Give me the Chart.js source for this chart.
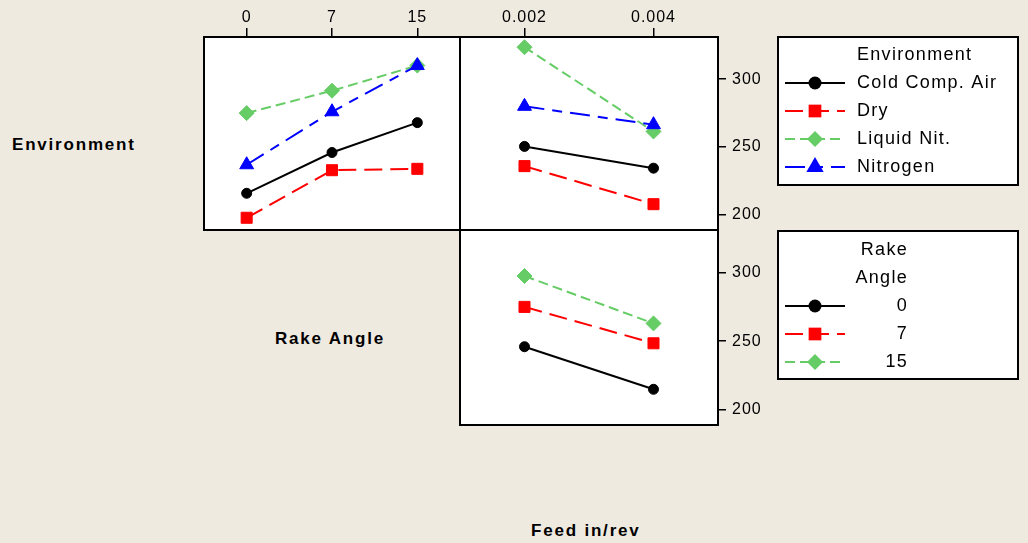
<!DOCTYPE html>
<html>
<head>
<meta charset="utf-8">
<title>Interaction Plot</title>
<script src="https://cdn.jsdelivr.net/npm/chart.js@4.4.0/dist/chart.umd.min.js"></script>
<style>
  body { margin: 0; background: #eeeae0; width: 1028px; height: 543px; overflow: hidden; position: relative;
         font-family: "Liberation Sans", Arial, sans-serif; }
  canvas { position: absolute; }
  .lbl { position: absolute; font-weight: bold; font-size: 17px; letter-spacing: 1.8px; line-height: 20px;
         white-space: nowrap; color: #000; }
</style>
</head>
<body>
<div class="lbl" style="left:12px;top:135px">Environment</div>
<div class="lbl" style="left:275px;top:329px">Rake Angle</div>
<div class="lbl" style="left:531px;top:521px">Feed in/rev</div>
<canvas id="envRake" style="left:194px;top:0px" width="276" height="240"></canvas>
<canvas id="envFeed" style="left:450px;top:0px" width="578" height="240"></canvas>
<canvas id="rakeFeed" style="left:450px;top:220px" width="578" height="215"></canvas>
<script>
// factor levels and tick labels
const rakeAngles = ['0', '7', '15'];
const feedRates = ['0.002', '0.004'];
const environments = ['Cold Comp. Air', 'Dry', 'Liquid Nit.', 'Nitrogen'];
const rakeLevels = ['0', '7', '15'];
const yTicks = [200, 250, 300];
const yMin = 189, yMax = 331;

// mean response: environment x rake angle
const coldAirByRake = [216, 246, 268];
const dryByRake = [198, 233, 234];
const liquidNitByRake = [275, 291.5, 310];
const nitrogenByRake = [237, 276, 310];

// mean response: environment x feed
const coldAirByFeed = [250.5, 234.5];
const dryByFeed = [236, 208];
const liquidNitByFeed = [323.5, 261.5];
const nitrogenByFeed = [280, 266.5];

// mean response: rake angle x feed
const rake0ByFeed = [246, 215];
const rake7ByFeed = [275, 248.5];
const rake15ByFeed = [297.5, 263];

const FONT = '"Liberation Sans", Arial, sans-serif';

const styles = [
  { color: '#000000', dash: [], point: 'circle', r: 5, lr: 6.5 },
  { color: '#ff0000', dash: [18, 8], point: 'rect', r: 7.8, lr: 9 },
  { color: '#66cc66', dash: [10, 5], point: 'rectRot', r: 7.5, lr: 8 },
  { color: '#0000ff', dash: [20, 8, 10, 8], point: 'triangle', r: 8, lr: 10 }
];

function makeSets(labels, series) {
  return series.map((vals, i) => {
    const s = styles[i];
    return {
      label: labels[i],
      data: vals,
      borderColor: s.color,
      backgroundColor: s.color,
      borderWidth: 2,
      borderDash: s.dash,
      pointStyle: s.point,
      pointRadius: s.r,
      pointHoverRadius: s.r,
      pointBackgroundColor: s.color,
      pointBorderColor: s.color,
      pointBorderWidth: 1,
      legendRadius: s.lr,
      fill: false,
      tension: 0,
      order: series.length - i
    };
  });
}

function drawMarker(ctx, style, x, y, r, color) {
  ctx.fillStyle = color;
  ctx.beginPath();
  if (style === 'circle') {
    ctx.arc(x, y, r, 0, Math.PI * 2);
  } else if (style === 'rect') {
    const h = r * Math.SQRT1_2;
    ctx.rect(x - h, y - h, 2 * h, 2 * h);
  } else if (style === 'rectRot') {
    ctx.moveTo(x, y - r); ctx.lineTo(x + r, y); ctx.lineTo(x, y + r); ctx.lineTo(x - r, y);
    ctx.closePath();
  } else if (style === 'triangle') {
    const w = r * Math.sqrt(3) / 2;
    ctx.moveTo(x, y - r); ctx.lineTo(x + w, y + r / 2); ctx.lineTo(x - w, y + r / 2);
    ctx.closePath();
  }
  ctx.fill();
}

// white panel with black frame around the plot area
const panelFrame = {
  id: 'panelFrame',
  beforeDraw(chart) {
    const a = chart.chartArea, ctx = chart.ctx;
    ctx.letterSpacing = '1px';
    ctx.save();
    ctx.fillStyle = '#ffffff';
    ctx.fillRect(a.left, a.top, a.right - a.left, a.bottom - a.top);
    ctx.restore();
  },
  afterDraw(chart) {
    const a = chart.chartArea, ctx = chart.ctx;
    ctx.save();
    ctx.strokeStyle = '#000';
    ctx.lineWidth = 2;
    ctx.strokeRect(a.left, a.top, a.right - a.left, a.bottom - a.top);
    ctx.restore();
  }
};

// boxed legend with line + marker samples
const boxLegend = {
  id: 'boxLegend',
  afterDraw(chart, args, o) {
    if (!o.box) return;
    const ctx = chart.ctx;
    const [bx, by, bw, bh] = o.box;
    ctx.save();
    ctx.fillStyle = '#fff';
    ctx.fillRect(bx, by, bw, bh);
    ctx.strokeStyle = '#000';
    ctx.lineWidth = 2;
    ctx.strokeRect(bx, by, bw, bh);
    ctx.font = '18px ' + FONT;
    ctx.letterSpacing = '1.3px';
    ctx.textBaseline = 'middle';
    ctx.textAlign = o.align;
    let y = by + o.firstRow;
    ctx.fillStyle = '#000';
    o.title.forEach(t => { ctx.fillText(t, bx + o.textX, y); y += o.rowGap; });
    chart.data.datasets.forEach(ds => {
      const x0 = bx + 7, x1 = bx + 67, xm = (x0 + x1) / 2;
      ctx.strokeStyle = ds.borderColor;
      ctx.lineWidth = 2;
      ctx.setLineDash(ds.borderDash);
      ctx.beginPath(); ctx.moveTo(x0, y); ctx.lineTo(x1, y); ctx.stroke();
      ctx.setLineDash([]);
      drawMarker(ctx, ds.pointStyle, xm, y, ds.legendRadius, ds.borderColor);
      ctx.fillStyle = '#000';
      ctx.fillText(ds.label, bx + o.textX, y);
      y += o.rowGap;
    });
    ctx.restore();
  }
};

const tickFont = { family: FONT, size: 16 };

function xTop() {
  return {
    type: 'category', position: 'top', offset: true,
    grid: { drawOnChartArea: false, color: '#000', lineWidth: 1.5, tickLength: 9 },
    border: { display: false },
    ticks: { color: '#000', font: tickFont, padding: 1, maxRotation: 0, autoSkip: false },
    afterFit(s) { s.height = 37; s.paddingLeft = 0; s.paddingRight = 0; }
  };
}

function yRight() {
  return {
    position: 'right', min: yMin, max: yMax,
    grid: { drawOnChartArea: false, color: '#000', lineWidth: 1.5, tickLength: 8 },
    border: { display: false },
    ticks: { color: '#000', font: tickFont, padding: 6 },
    afterBuildTicks(s) { s.ticks = yTicks.map(v => ({ value: v })); },
    afterFit(s) { s.width = 62; s.paddingTop = 0; s.paddingBottom = 0; }
  };
}

function baseOptions(padding, scales, legend) {
  return {
    responsive: false,
    animation: false,
    events: [],
    layout: { padding },
    scales,
    plugins: { legend: { display: false }, tooltip: { enabled: false }, boxLegend: legend || {} }
  };
}

new Chart(document.getElementById('envRake'), {
  type: 'line',
  data: {
    labels: rakeAngles,
    datasets: makeSets(environments, [coldAirByRake, dryByRake, liquidNitByRake, nitrogenByRake])
  },
  options: baseOptions({ left: 10, right: 10, top: 0, bottom: 10 },
    { x: xTop(), y: { display: false, min: yMin, max: yMax } }),
  plugins: [panelFrame]
});

new Chart(document.getElementById('envFeed'), {
  type: 'line',
  data: {
    labels: feedRates,
    datasets: makeSets(environments, [coldAirByFeed, dryByFeed, liquidNitByFeed, nitrogenByFeed])
  },
  options: baseOptions({ left: 10, right: 248, top: 0, bottom: 10 },
    { x: xTop(), y: yRight() },
    { box: [328, 37, 240, 148], title: ['Environment'], align: 'left', textX: 79, firstRow: 18, rowGap: 28 }),
  plugins: [panelFrame, boxLegend]
});

new Chart(document.getElementById('rakeFeed'), {
  type: 'line',
  data: {
    labels: feedRates,
    datasets: makeSets(rakeLevels, [rake0ByFeed, rake7ByFeed, rake15ByFeed])
  },
  options: baseOptions({ left: 10, right: 248, top: 10, bottom: 10 },
    { x: { type: 'category', offset: true, display: false }, y: yRight() },
    { box: [328, 11, 240, 148], title: ['Rake', 'Angle'], align: 'right', textX: 130, firstRow: 19, rowGap: 28 }),
  plugins: [panelFrame, boxLegend]
});
</script>
</body>
</html>
